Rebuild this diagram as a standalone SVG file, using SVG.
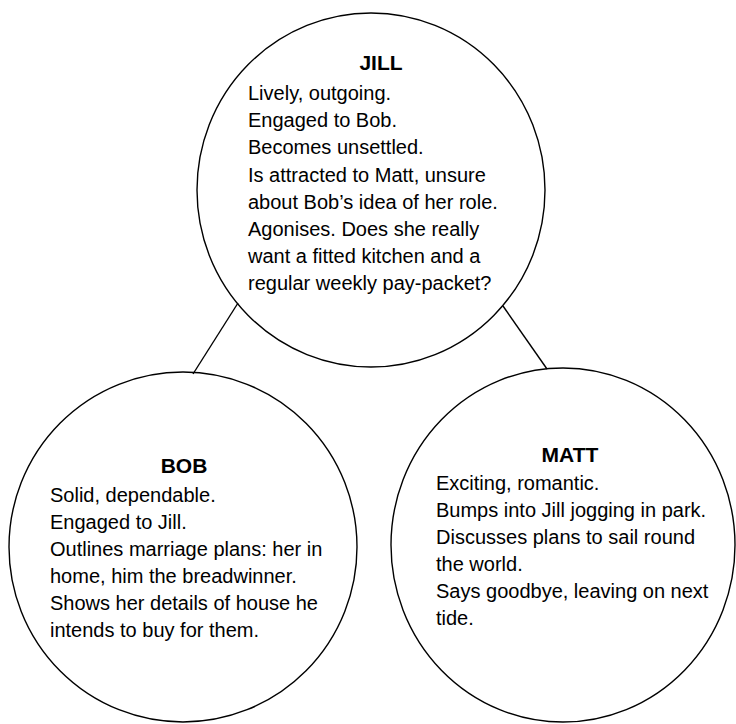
<svg xmlns="http://www.w3.org/2000/svg" width="736" height="724" viewBox="0 0 736 724">
<style>
.c{fill:none;stroke:#000;stroke-width:1.4}
.l{stroke:#000;stroke-width:1.4}
.t{font-family:"Liberation Sans",Arial,sans-serif;font-size:20px;fill:#000}
.h{font-family:"Liberation Sans",Arial,sans-serif;font-size:21px;font-weight:bold;fill:#000;text-anchor:middle}
</style>
<rect width="736" height="724" fill="#fff"/>
<g id="connectors">
<line class="l" x1="238" y1="303" x2="193" y2="374"/>
<line class="l" x1="503" y1="306" x2="547" y2="369"/>
</g>
<g id="jill">
<ellipse class="c" cx="371" cy="190" rx="174" ry="177"/>
<text class="h" x="381" y="70">JILL</text>
<text class="t" x="248" y="100">Lively, outgoing.</text>
<text class="t" x="248" y="127.2">Engaged to Bob.</text>
<text class="t" x="248" y="154.4">Becomes unsettled.</text>
<text class="t" x="248" y="181.6">Is attracted to Matt, unsure</text>
<text class="t" x="248" y="208.8">about Bob’s idea of her role.</text>
<text class="t" x="248" y="236">Agonises. Does she really</text>
<text class="t" x="248" y="263.2">want a fitted kitchen and a</text>
<text class="t" x="248" y="290.4">regular weekly pay-packet?</text>
</g>
<g id="bob">
<ellipse class="c" cx="183" cy="547" rx="174" ry="175"/>
<text class="h" x="184" y="473">BOB</text>
<text class="t" x="50" y="502">Solid, dependable.</text>
<text class="t" x="50" y="529">Engaged to Jill.</text>
<text class="t" x="50" y="556">Outlines marriage plans: her in</text>
<text class="t" x="50" y="583">home, him the breadwinner.</text>
<text class="t" x="50" y="610">Shows her details of house he</text>
<text class="t" x="50" y="637">intends to buy for them.</text>
</g>
<g id="matt">
<ellipse class="c" cx="563" cy="545" rx="172" ry="177"/>
<text class="h" x="570" y="462">MATT</text>
<text class="t" x="436" y="490">Exciting, romantic.</text>
<text class="t" x="436" y="517">Bumps into Jill jogging in park.</text>
<text class="t" x="436" y="544">Discusses plans to sail round</text>
<text class="t" x="436" y="571">the world.</text>
<text class="t" x="436" y="598">Says goodbye, leaving on next</text>
<text class="t" x="436" y="625">tide.</text>
</g>
</svg>
